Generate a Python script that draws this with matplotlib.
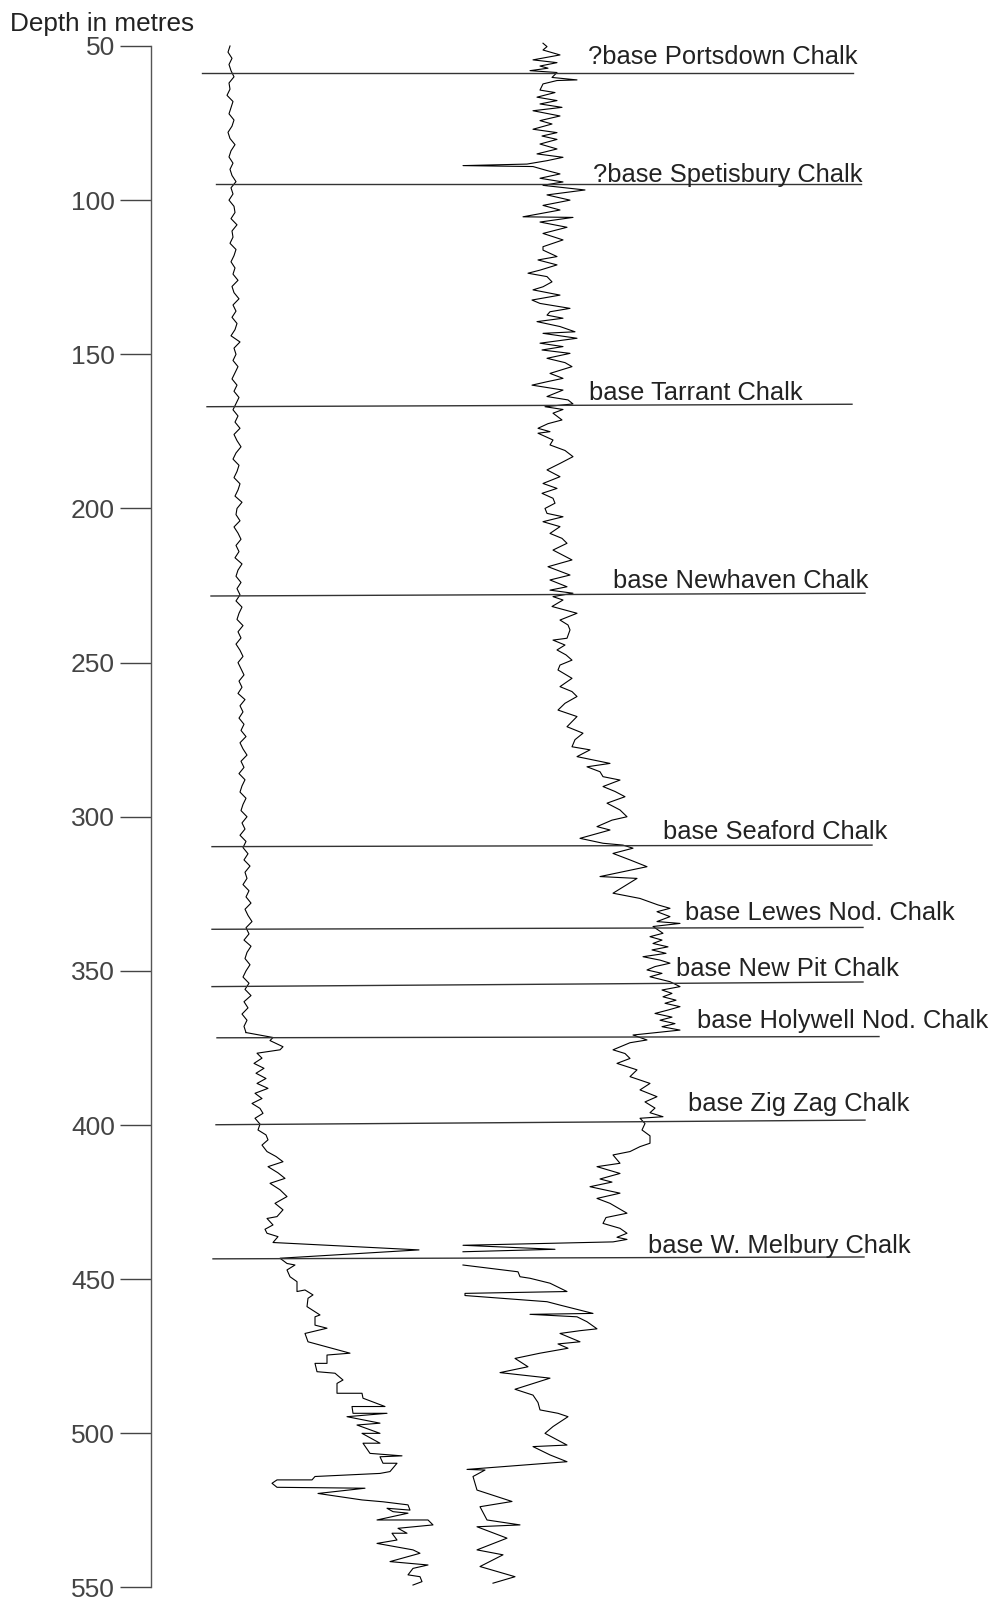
import numpy as np
import matplotlib.pyplot as plt

plt.rcParams["font.family"] = ["Liberation Sans", "DejaVu Sans"]

# ---- Log data: depth (m) vs log response (arbitrary units) ----
# left log, quiet upper section sampled every 2 m (50-370 m)
left_upper_depth = np.arange(50, 371, 2)
left_upper_value = [
    230, 228, 232, 229, 231, 234, 229, 230, 227, 233,
    231, 229, 234, 232, 228, 230, 235, 231, 229, 233,
    230, 232, 236, 231, 233, 229, 234, 235, 231, 237,
    232, 233, 230, 236, 234, 231, 235, 233, 238, 232,
    234, 239, 233, 236, 232, 237, 235, 231, 240, 234,
    236, 233, 238, 235, 232, 237, 234, 239, 236, 233,
    238, 235, 240, 234, 237, 241, 236, 233, 239, 237,
    234, 240, 238, 235, 242, 237, 236, 240, 234, 238,
    241, 236, 239, 235, 242, 238, 236, 241, 237, 240,
    236, 242, 239, 237, 243, 238, 241, 236, 240, 243,
    238, 241, 244, 239, 242, 238, 245, 240, 243, 239,
    244, 241, 246, 240, 243, 247, 241, 244, 239, 245,
    242, 240, 246, 243, 241, 247, 242, 245, 240, 246,
    243, 248, 244, 250, 245, 247, 243, 249, 246, 251,
    245, 248, 252, 246, 249, 244, 251, 247, 245, 250,
    246, 243, 249, 245, 251, 244, 248, 242, 247, 244,
    246,
]

# left log below the Holywell break (depth, value)
left_lower = [
    (371.6, 273), (372.6, 270), (374.6, 283), (375.6, 280), (376.7, 257),
    (378.3, 262), (380.0, 254), (381.6, 264), (383.2, 256), (384.9, 266),
    (386.5, 257), (388.1, 268), (389.7, 255), (391.4, 262), (393.0, 252),
    (394.6, 260), (396.2, 263), (397.8, 255), (399.7, 260), (401.6, 258),
    (403.2, 266), (404.8, 268), (406.5, 262), (408.6, 267), (410.2, 276),
    (411.9, 283), (413.5, 268), (415.5, 278), (417.3, 285), (418.9, 270),
    (421.0, 280), (423.2, 287), (425.4, 275), (427.5, 283), (429.7, 277),
    (430.3, 267), (432.4, 273), (433.8, 265), (435.1, 267), (436.2, 278),
    (438.1, 273), (440.5, 419), (443.2, 280), (444.9, 287), (445.4, 295),
    (447.0, 287), (449.2, 290), (450.8, 297), (454.0, 297), (453.5, 305),
    (455.1, 313), (456.2, 308), (458.9, 307), (461.6, 320), (462.2, 315),
    (464.9, 315), (465.9, 327), (467.6, 305), (470.3, 308), (474.0, 350),
    (474.6, 327), (477.3, 327), (477.3, 315), (480.0, 317), (480.5, 335),
    (482.7, 343), (483.8, 337), (487.0, 337), (487.0, 362), (488.6, 363),
    (491.3, 385), (491.3, 352), (493.5, 353), (493.5, 387), (494.6, 347),
    (496.7, 380), (497.3, 357), (500.0, 380), (500.0, 362), (503.2, 380),
    (503.2, 363), (506.5, 370), (507.3, 402), (507.6, 380), (509.7, 383),
    (509.7, 397), (512.4, 390), (513.0, 380), (514.0, 315), (515.1, 312),
    (515.1, 277), (516.2, 272), (517.5, 277), (517.8, 365), (519.5, 318),
    (521.6, 362), (522.2, 383), (523.2, 408), (524.9, 410), (524.3, 387),
    (525.4, 393), (525.9, 408), (528.1, 377), (528.1, 428), (529.7, 433),
    (530.8, 398), (532.4, 407), (532.4, 392), (534.6, 397), (535.7, 377),
    (537.8, 413), (538.9, 420), (541.6, 390), (542.7, 428), (543.8, 413),
    (545.9, 408), (546.5, 420), (548.1, 422), (549.2, 413),
]

# right log, from the top down to the W. Melbury break
right_upper = [
    (49.1, 543), (50.2, 547), (51.3, 543), (52.9, 560), (54.5, 533),
    (55.4, 557), (56.5, 540), (57.2, 548), (58.0, 530), (58.6, 557),
    (60.2, 552), (61.0, 577), (61.2, 557), (62.3, 543), (64.3, 540),
    (65.1, 555), (66.6, 537), (67.7, 557), (68.8, 540), (69.9, 562),
    (71.0, 533), (72.7, 560), (74.2, 540), (75.3, 552), (77.0, 533),
    (78.1, 557), (79.2, 542), (80.3, 557), (81.8, 540), (83.4, 557),
    (85.0, 537), (86.1, 563), (87.2, 547), (88.3, 527), (88.8, 463),
    (89.1, 533), (90.4, 547), (91.5, 560), (92.9, 540), (94.1, 563),
    (95.2, 543), (96.7, 585), (98.3, 547), (100.0, 570), (101.7, 543),
    (103.2, 560), (105.4, 523), (105.6, 573), (107.1, 540), (108.8, 567),
    (110.8, 543), (112.9, 563), (115.1, 543), (116.2, 543), (118.3, 557),
    (119.4, 538), (121.0, 557), (122.7, 540), (123.7, 528), (124.8, 547),
    (126.5, 552), (128.1, 543), (129.1, 533), (130.8, 560), (132.4, 532),
    (133.5, 540), (135.1, 570), (136.2, 550), (137.3, 547), (138.3, 563),
    (139.4, 537), (141.0, 560), (142.7, 575), (143.2, 543), (144.8, 577),
    (146.4, 540), (147.5, 563), (148.6, 542), (149.7, 570), (151.3, 547),
    (152.7, 565), (154.0, 572), (156.2, 550), (157.8, 563), (158.9, 547),
    (160.0, 532), (161.6, 563), (163.7, 547), (164.8, 568), (166.1, 573),
    (167.0, 545), (167.9, 563), (169.1, 553), (171.3, 562), (172.5, 548),
    (174.0, 538), (175.1, 550), (175.6, 538), (177.8, 553), (179.4, 550),
    (181.2, 565), (183.2, 573), (185.4, 560), (187.5, 547), (189.7, 560),
    (191.9, 543), (193.5, 557), (195.1, 542), (196.7, 553), (198.3, 555),
    (200.0, 545), (201.6, 547), (202.7, 563), (204.3, 543), (205.9, 560),
    (208.1, 550), (209.7, 562), (211.3, 567), (213.5, 553), (216.7, 572),
    (218.9, 548), (221.6, 570), (223.2, 550), (225.4, 567), (226.5, 550),
    (227.5, 573), (228.6, 553), (229.7, 563), (231.8, 552), (234.0, 577),
    (236.2, 560), (237.8, 568), (239.4, 570), (242.1, 567), (242.7, 553),
    (244.3, 565), (245.9, 557), (247.5, 566), (249.2, 572), (250.8, 560),
    (252.4, 558), (255.1, 572), (257.8, 560), (259.4, 572), (261.0, 577),
    (263.2, 565), (265.4, 558), (267.5, 577), (270.8, 567), (272.9, 583),
    (275.0, 575), (277.3, 572), (278.3, 590), (280.5, 577), (282.7, 610),
    (283.8, 587), (285.4, 600), (287.0, 603), (288.1, 620), (290.2, 603),
    (291.8, 615), (293.5, 625), (295.6, 607), (297.8, 620), (300.0, 627),
    (301.1, 612), (303.2, 597), (304.3, 610), (307.0, 580), (308.6, 603),
    (309.2, 623), (310.2, 633), (311.9, 613), (314.0, 630), (316.2, 647),
    (319.4, 600), (320.0, 637), (322.4, 625), (324.8, 613), (326.5, 640),
    (328.6, 658), (329.7, 670), (330.8, 657), (332.4, 670), (334.0, 657),
    (334.6, 680), (335.6, 653), (337.8, 663), (338.9, 650), (340.0, 662),
    (341.1, 653), (342.2, 668), (343.2, 652), (344.3, 666), (345.4, 643),
    (346.5, 660), (347.5, 670), (348.6, 655), (349.7, 647), (350.8, 662),
    (351.9, 650), (353.5, 670), (355.1, 680), (356.2, 662), (357.3, 672),
    (358.4, 663), (359.5, 676), (360.5, 665), (361.6, 680), (362.7, 668),
    (363.8, 655), (365.0, 672), (366.0, 660), (367.1, 675), (368.1, 662),
    (369.2, 680), (370.8, 633), (372.4, 647), (373.3, 630), (375.6, 613),
    (376.8, 625), (378.4, 630), (380.0, 617), (382.1, 637), (384.3, 630),
    (386.5, 650), (388.6, 640), (390.8, 657), (392.5, 645), (394.5, 655),
    (396.0, 650), (397.3, 663), (397.8, 640), (399.5, 645), (401.6, 642),
    (403.5, 650), (405.9, 650), (407.0, 640), (408.6, 630), (409.7, 613),
    (412.4, 620), (413.5, 597), (415.7, 620), (417.5, 600), (418.5, 612),
    (420.0, 590), (422.1, 620), (423.8, 597), (425.4, 610), (428.6, 627),
    (430.0, 606), (431.9, 603), (433.5, 620), (435.1, 627), (436.4, 617),
    (437.1, 627), (437.9, 613), (439.0, 463), (440.3, 555), (441.1, 463),
]

# right log below the break
right_lower = [
    (445.4, 463), (447.6, 518), (449.2, 520), (449.7, 530), (451.3, 550),
    (454.0, 567), (454.6, 465), (455.3, 465), (457.3, 547), (458.4, 560),
    (461.1, 593), (461.4, 530), (462.2, 577), (463.8, 587), (466.1, 597),
    (466.7, 580), (467.6, 560), (470.3, 580), (471.0, 558), (472.4, 568),
    (474.0, 540), (475.7, 515), (478.4, 528), (480.3, 500), (482.1, 550),
    (485.7, 515), (487.6, 533), (490.0, 538), (492.4, 540), (493.5, 558),
    (494.6, 568), (497.8, 553), (500.0, 545), (503.8, 567), (504.3, 533),
    (507.0, 550), (509.2, 567), (511.7, 467), (511.9, 485), (514.0, 473),
    (518.4, 477), (522.1, 512), (523.8, 480), (528.1, 487), (529.7, 520),
    (530.3, 477), (534.0, 507), (537.8, 477), (539.4, 503), (543.2, 480),
    (546.5, 515), (548.6, 493),
]

# formation bases: name, depth at left end, depth at right end (m)
base_names = [
    "?base Portsdown Chalk", "?base Spetisbury Chalk", "base Tarrant Chalk",
    "base Newhaven Chalk", "base Seaford Chalk", "base Lewes Nod. Chalk",
    "base New Pit Chalk", "base Holywell Nod. Chalk", "base Zig Zag Chalk",
    "base W. Melbury Chalk",
]
base_depth_left = [58.9, 94.9, 167.0, 228.4, 309.7, 336.5, 355.1, 371.7, 399.9, 443.4]
base_depth_right = [58.9, 94.9, 166.2, 227.5, 309.2, 335.9, 353.6, 371.3, 398.4, 442.8]

# layout of the correlation lines and their labels
line_x0 = [202, 216, 207, 211, 212, 212, 212, 217, 216, 213]
line_x1 = [853, 861, 852, 865, 872, 863, 863, 879, 865, 864]
label_x = [588, 593, 589, 613, 663, 685, 676, 697, 688, 648]
label_depth = [55.8, 94.0, 164.8, 225.9, 307.3, 333.5, 351.7, 368.6, 395.3, 441.6]

# ---- Figure ----
fig = plt.figure(figsize=(9.94, 16.03), dpi=100)
ax = fig.add_axes([0, 0, 1, 1])
ax.set_xlim(0, 994)
ax.set_ylim(555.03, 35.08)

ink = "black"
ax.plot(left_upper_value, left_upper_depth, color=ink, lw=0.8)
ld, lv = zip(*left_lower)
ax.plot([left_upper_value[-1]] + list(lv), [left_upper_depth[-1]] + list(ld), color=ink, lw=0.8)
rd, rv = zip(*right_upper)
ax.plot(rv, rd, color=ink, lw=0.8)
rd, rv = zip(*right_lower)
ax.plot(rv, rd, color=ink, lw=0.8)

for i, name in enumerate(base_names):
    ax.plot([line_x0[i], line_x1[i]], [base_depth_left[i], base_depth_right[i]],
            color="#333333", lw=1.0)
    ax.text(label_x[i], label_depth[i], name, fontsize=18.4, color="#222222",
            ha="left", va="baseline")

# depth axis
for s in ["top", "right", "bottom"]:
    ax.spines[s].set_visible(False)
ax.spines["left"].set_position(("data", 151))
ax.spines["left"].set_bounds(50, 550)
ax.spines["left"].set_color("#555555")
ax.spines["left"].set_linewidth(1.0)
ax.set_xticks([])
ax.set_yticks(np.arange(50, 551, 50))
ax.tick_params(axis="y", direction="out", length=22, width=1.0, pad=4,
               color="#444444", labelcolor="#444444", labelsize=19)
ax.text(10, 45.0, "Depth in metres", fontsize=18.8, color="#222222",
        ha="left", va="baseline")

fig.savefig("out.png", dpi=100)
